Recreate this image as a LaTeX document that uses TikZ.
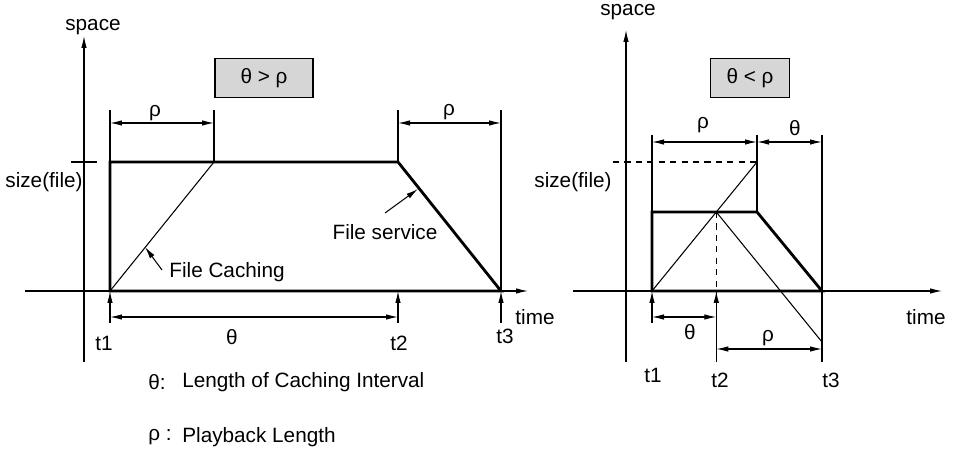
\documentclass[tikz,border=0pt]{standalone}
\usepackage{fontspec}
\setmainfont{Liberation Sans}
\usetikzlibrary{arrows.meta,calc}

\begin{document}
\begin{tikzpicture}[x=.02cm,y=-.02cm,font=\fontsize{11.8}{14}\selectfont,
lin/.style={line width=.6pt},prof/.style={line width=1.6pt,line join=miter},
dim/.style={lin,{Latex[length=2.4mm,width=1.1mm]}-{Latex[length=2.4mm,width=1.1mm]}},
tip/.style={lin,-{Latex[length=2.4mm,width=1.1mm]}},
condbox/.style={draw,line width=1.1pt,fill=black!16,minimum height=.78cm},
legend/.style={anchor=west,inner sep=0}]
\useasboundingbox(0,0)rectangle(954,455);
% theta > rho
\coordinate(lxa)at(25,291);\coordinate(lxb)at(528,291);\coordinate(lya)at(84,362);\coordinate(lyb)at(84,36);
\coordinate(t1)at(110,291);\coordinate(t2)at(398,291);\coordinate(t3)at(501,291);
\coordinate(lA)at(110,162);\coordinate(lB)at(214,162);\coordinate(lC)at(398,162);
\draw[tip](lxa)--(lxb);\draw[tip](lya)--(lyb);\draw[lin](71,162)--(97,162);
\draw[prof](t1)--(lA)--(lC)--(t3)--cycle;\draw[lin](t1)--(lB);
\draw[lin](lA)--++(0,-52);\draw[lin](lB)--++(0,-52);\draw[lin](lC)--++(0,-52);\draw[lin](t3)--++(0,-181);
\draw[dim]($(lA)+(0,-39)$)--($(lB)+(0,-39)$);\draw[dim]($(lC)+(0,-39)$)--($(t3)+(0,-168)$);
\draw[tip]($(t1)+(0,32)$)--(t1);\draw[tip]($(t2)+(0,32)$)--(t2);\draw[tip]($(t3)+(0,32)$)--(t3);
\draw[dim]($(t1)+(0,26)$)--($(t2)+(0,26)$);
\node[condbox,minimum width=1.96cm](lcond)at(264,78){θ > ρ};
\node(lspace)at(93,27){space};\node(lsize)at(44,182){size(file)};\node(ltime)at(535,317){time};
\node(lrho1)at(155,113){ρ};\node(lrho2)at(449,112){ρ};\node(ltheta)at(232,337){θ};
\node(lt1)at(104,343){t1};\node(lt2)at(399,343){t2};\node(lt3)at(505,336){t3};
\node(cach)at(227,272){File Caching};\coordinate(cachs)at(162,270);\coordinate(cachp)at(145,247);\draw[tip](cachs)--(cachp);
\node(serv)at(385,232){File service};\coordinate(servs)at(385,213);\coordinate(servp)at(418,189);\draw[tip](servs)--(servp);
\node[legend](leg1)at(148,382){θ:};\node[legend]at(182,382){Length of Caching Interval};
\node[legend](leg2)at(148,437){ρ :};\node[legend]at(182,437){Playback Length};
% theta < rho
\coordinate(rxa)at(573,291);\coordinate(rxb)at(942,291);\coordinate(rya)at(626,362);\coordinate(ryb)at(626,30);
\coordinate(s1)at(652,291);\coordinate(s3)at(822,291);
\coordinate(rA)at(652,212);\coordinate(rC)at(757,212);\coordinate(rD)at(757,162);
\coordinate(rB)at($(s1)!.6124!(rD)$);\coordinate(s2)at(rB|-s1);\coordinate(rE)at(822,342);
\draw[tip](rxa)--(rxb);\draw[tip](rya)--(ryb);
\draw[lin,dash pattern=on 3.5pt off 3pt](613,162)--(rD);\draw[lin,dash pattern=on 3.5pt off 3pt](rB)--(s2);
\draw[prof](s1)--(rA)--(rC)--(s3)--cycle;\draw[lin](s1)--(rD);\draw[lin](rB)--(rE);
\draw[lin](rA)--++(0,-77);\draw[lin](rC)--++(0,-77);\draw[lin]($(s3)+(0,-156)$)--($(s3)+(0,71)$);\draw[lin](s2)--++(0,71);
\draw[dim]($(rA)+(0,-70)$)--($(rC)+(0,-70)$);\draw[dim]($(rC)+(0,-70)$)--($(s3)+(0,-149)$);
\draw[tip]($(s1)+(0,32)$)--(s1);\draw[tip]($(s2)+(0,32)$)--(s2);
\draw[dim]($(s1)+(0,26)$)--($(s2)+(0,26)$);\draw[dim]($(s2)+(0,58)$)--($(s3)+(0,58)$);
\node[condbox,minimum width=1.58cm](rcond)at(750,78){θ < ρ};
\node(rspace)at(628,12){space};\node(rsize)at(573,182){size(file)};\node(rtime)at(926,317){time};
\node(rrho1)at(703,125){ρ};\node(rtheta1)at(795,128){θ};\node(rtheta2)at(690,332){θ};\node(rrho2)at(768,338){ρ};
\node(rt1)at(653,375){t1};\node(rt2)at(720,380){t2};\node(rt3)at(831,380){t3};
\end{tikzpicture}
\end{document}
